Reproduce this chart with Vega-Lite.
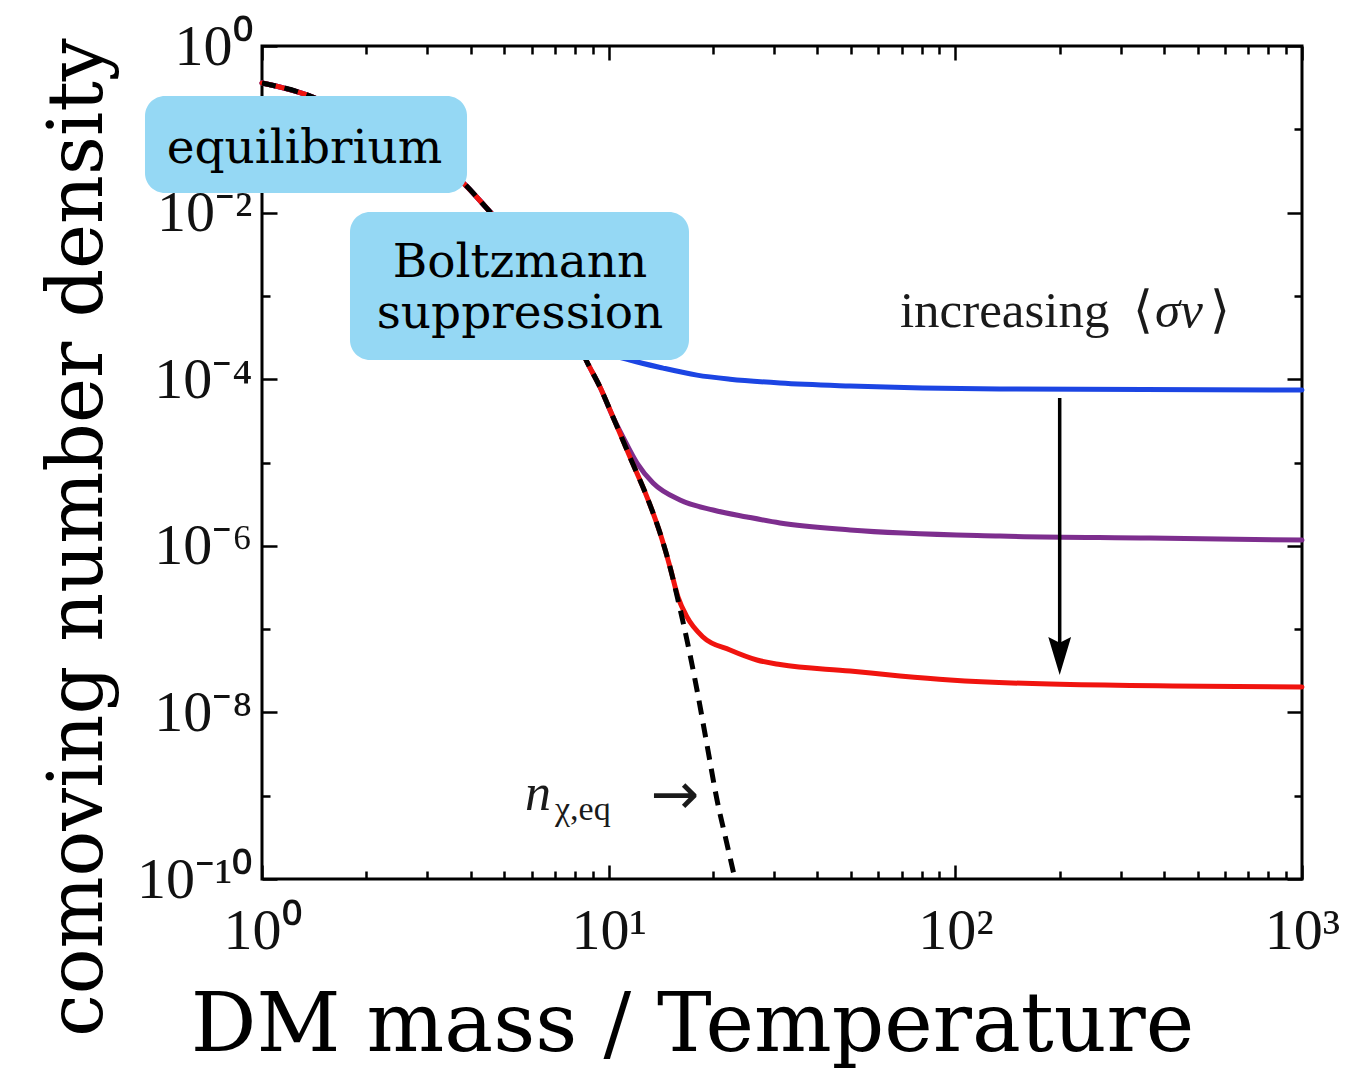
{
  "$schema": "https://vega.github.io/schema/vega-lite/v6.json",
  "width": 1040,
  "height": 833,
  "autosize": {"type": "none"},
  "padding": {"left": 262, "top": 46, "right": 62, "bottom": 194},
  "background": "white",
  "config": {
    "view": {"stroke": "black", "strokeWidth": 3},
    "axis": {"domain": false, "grid": false, "tickColor": "black", "tickWidth": 2.5, "labelFlush": false, "labelOverlap": false}
  },
  "datasets": {
    "freeze": [
      {"s": "blue", "x": 1, "y": 0.36}, {"s": "blue", "x": 1.4, "y": 0.244}, {"s": "blue", "x": 1.92, "y": 0.122}, {"s": "blue", "x": 2.67, "y": 0.0534}, {"s": "blue", "x": 3.73, "y": 0.0246}, {"s": "blue", "x": 4.55, "y": 0.0102}, {"s": "blue", "x": 5.93, "y": 0.0031}, {"s": "blue", "x": 7.24, "y": 0.000893},
      {"s": "blue", "x": 8.27, "y": 0.00039}, {"s": "blue", "x": 9.44, "y": 0.000224}, {"s": "blue", "x": 11.52, "y": 0.00017}, {"s": "blue", "x": 14.35, "y": 0.000136}, {"s": "blue", "x": 17.98, "y": 0.000112}, {"s": "blue", "x": 22.39, "y": 0.0001}, {"s": "blue", "x": 31.2, "y": 0.0000899}, {"s": "blue", "x": 49.7, "y": 0.0000828}, {"s": "blue", "x": 134.5, "y": 0.0000762}, {"s": "blue", "x": 1000, "y": 0.0000741},
      {"s": "purple", "x": 1, "y": 0.36}, {"s": "purple", "x": 1.4, "y": 0.244}, {"s": "purple", "x": 1.92, "y": 0.122}, {"s": "purple", "x": 2.67, "y": 0.0534}, {"s": "purple", "x": 3.73, "y": 0.0246}, {"s": "purple", "x": 4.55, "y": 0.0102}, {"s": "purple", "x": 5.93, "y": 0.0031}, {"s": "purple", "x": 7.24, "y": 0.000893}, {"s": "purple", "x": 8.66, "y": 0.000161}, {"s": "purple", "x": 9.44, "y": 0.0000805}, {"s": "purple", "x": 10.29, "y": 0.0000352},
      {"s": "purple", "x": 11.0, "y": 0.0000202}, {"s": "purple", "x": 12.07, "y": 0.00000986}, {"s": "purple", "x": 13.43, "y": 0.00000567}, {"s": "purple", "x": 16.06, "y": 0.00000355}, {"s": "purple", "x": 20.0, "y": 0.00000269}, {"s": "purple", "x": 25.06, "y": 0.00000222}, {"s": "purple", "x": 31.2, "y": 0.00000188}, {"s": "purple", "x": 49.7, "y": 0.00000155}, {"s": "purple", "x": 134.5, "y": 0.00000131}, {"s": "purple", "x": 364, "y": 0.00000124}, {"s": "purple", "x": 1000, "y": 0.00000117},
      {"s": "red", "x": 1, "y": 0.36}, {"s": "red", "x": 1.4, "y": 0.244}, {"s": "red", "x": 1.92, "y": 0.122}, {"s": "red", "x": 2.67, "y": 0.0534}, {"s": "red", "x": 3.73, "y": 0.0246}, {"s": "red", "x": 4.55, "y": 0.0102}, {"s": "red", "x": 5.93, "y": 0.0031}, {"s": "red", "x": 7.24, "y": 0.000893}, {"s": "red", "x": 8.66, "y": 0.000161}, {"s": "red", "x": 9.44, "y": 0.0000805}, {"s": "red", "x": 10.29, "y": 0.0000352}, {"s": "red", "x": 11.52, "y": 0.0000116}, {"s": "red", "x": 12.9, "y": 0.00000385}, {"s": "red", "x": 14.06, "y": 0.00000143}, {"s": "red", "x": 15.03, "y": 5.56e-7},
      {"s": "red", "x": 15.85, "y": 2.43e-7}, {"s": "red", "x": 16.82, "y": 1.4e-7}, {"s": "red", "x": 18.71, "y": 8.04e-8}, {"s": "red", "x": 22.39, "y": 5.61e-8}, {"s": "red", "x": 26.77, "y": 4.26e-8}, {"s": "red", "x": 31.2, "y": 3.75e-8}, {"s": "red", "x": 49.7, "y": 3.14e-8}, {"s": "red", "x": 69.2, "y": 2.74e-8}, {"s": "red", "x": 96.5, "y": 2.45e-8}, {"s": "red", "x": 187.6, "y": 2.19e-8}, {"s": "red", "x": 1000, "y": 2.02e-8}
    ],
    "eq": [
      {"x": 1, "y": 0.36}, {"x": 1.4, "y": 0.244}, {"x": 1.92, "y": 0.122}, {"x": 2.67, "y": 0.0534}, {"x": 3.73, "y": 0.0246}, {"x": 4.55, "y": 0.0102}, {"x": 5.93, "y": 0.0031}, {"x": 7.24, "y": 0.000893}, {"x": 8.66, "y": 0.000161}, {"x": 9.44, "y": 0.0000805}, {"x": 10.29, "y": 0.0000352}, {"x": 11.52, "y": 0.0000116}, {"x": 12.9, "y": 0.00000385}, {"x": 14.06, "y": 0.00000143}, {"x": 15.03, "y": 5.56e-7}, {"x": 15.85, "y": 2.23e-7}, {"x": 16.82, "y": 7.4e-8}, {"x": 17.98, "y": 1.86e-8}, {"x": 19.22, "y": 4.06e-9}, {"x": 20.54, "y": 8.87e-10}, {"x": 21.81, "y": 2.94e-10}, {"x": 23.14, "y": 1e-10}
    ],
    "arrow": [{"x": 200, "y": 0.0000594, "y2": 5.61e-8}],
    "head": [{"x": 200, "y": 4.75e-8}],
    "boxes": [
      {"x": 0.4597, "x2": 3.903, "y": 0.2511, "y2": 0.01719},
      {"x": 1.794, "x2": 17.05, "y": 0.01017, "y2": 0.00017}
    ],
    "boxtext": [
      {"t": "equilibrium", "x": 1.326, "y": 0.0394},
      {"t": "Boltzmann", "x": 5.55, "y": 0.001686},
      {"t": "suppression", "x": 5.55, "y": 0.000412}
    ],
    "plain": [
      {"t": "increasing", "x": 69.2, "y": 0.000423},
      {"t": "⟨", "x": 325.5, "y": 0.000423},
      {"t": "⟩", "x": 542.8, "y": 0.000423}
    ]
  },
  "layer": [
    {
      "data": {"name": "freeze"},
      "mark": {"type": "line", "strokeWidth": 5, "strokeCap": "round", "interpolate": "monotone"},
      "encoding": {
        "x": {"field": "x", "type": "quantitative", "scale": {"type": "log", "domain": [1, 1000], "nice": false},
          "axis": {"orient": "bottom", "values": [1, 10, 100, 1000], "tickSize": -14,
            "labelExpr": "datum.value < 5 ? '10⁰' : datum.value < 50 ? '10¹' : datum.value < 500 ? '10²' : '10³'",
            "labelFont": "Liberation Serif", "labelFontSize": 58, "labelColor": "#111111", "labelBaseline": "alphabetic", "labelAlign": "center", "labelPadding": 83,
            "title": "DM mass / Temperature", "titleFont": "DejaVu Serif", "titleFontSize": 82, "titleFontWeight": "normal", "titleColor": "black",
            "titleX": 430, "titleY": 171, "titleAlign": "center", "titleBaseline": "alphabetic"}},
        "y": {"field": "y", "type": "quantitative", "scale": {"type": "log", "domain": [1e-10, 1], "nice": false},
          "axis": {"orient": "left", "values": [1, 0.01, 0.0001, 0.000001, 1e-8, 1e-10], "tickSize": -15,
            "labelExpr": "datum.value > 0.1 ? '10⁰' : datum.value > 0.001 ? '10⁻²' : datum.value > 0.00001 ? '10⁻⁴' : datum.value > 1e-7 ? '10⁻⁶' : datum.value > 1e-9 ? '10⁻⁸' : '10⁻¹⁰'",
            "labelFont": "Liberation Serif", "labelFontSize": 58, "labelColor": "#111111", "labelBaseline": "alphabetic", "labelAlign": "right", "labelPadding": 25, "labelOffset": 18,
            "title": "comoving number density", "titleFont": "DejaVu Serif", "titleFontSize": 76, "titleFontWeight": "normal", "titleColor": "black",
            "titleAngle": -90, "titleX": -161, "titleY": 491, "titleAlign": "center", "titleBaseline": "alphabetic"}},
        "color": {"field": "s", "type": "nominal", "scale": {"domain": ["blue", "purple", "red"], "range": ["#1c45e3", "#7d2e8e", "#f0140f"]}, "legend": null},
        "detail": {"field": "s"}
      }
    },
    {
      "data": {"name": "eq"},
      "mark": {"type": "line", "color": "black", "strokeWidth": 5, "strokeDash": [14, 9], "interpolate": "monotone"},
      "encoding": {
        "x": {"field": "x", "type": "quantitative", "axis": {"orient": "bottom", "values": [2, 3, 4, 5, 6, 7, 8, 9, 20, 30, 40, 50, 60, 70, 80, 90, 200, 300, 400, 500, 600, 700, 800, 900], "tickSize": -8, "labels": false, "title": null}},
        "y": {"field": "y", "type": "quantitative", "axis": {"orient": "left", "values": [0.1, 0.001, 0.00001, 1e-7, 1e-9], "tickSize": -8, "labels": false, "title": null}}
      }
    },
    {
      "data": {"name": "arrow"},
      "mark": {"type": "rule", "color": "black", "strokeWidth": 3.5},
      "encoding": {
        "x": {"field": "x", "type": "quantitative", "axis": {"orient": "top", "values": [1, 10, 100, 1000], "tickSize": -14, "labels": false, "title": null}},
        "y": {"field": "y", "type": "quantitative", "axis": {"orient": "right", "values": [1, 0.01, 0.0001, 0.000001, 1e-8, 1e-10], "tickSize": -15, "labels": false, "title": null}},
        "y2": {"field": "y2"}
      }
    },
    {
      "data": {"name": "head"},
      "mark": {"type": "point", "shape": "M-0.6,-1L0,-0.7L0.6,-1L0,1Z", "size": 1444, "filled": true, "color": "black", "opacity": 1, "strokeWidth": 0},
      "encoding": {
        "x": {"field": "x", "type": "quantitative", "axis": {"orient": "top", "values": [2, 3, 4, 5, 6, 7, 8, 9, 20, 30, 40, 50, 60, 70, 80, 90, 200, 300, 400, 500, 600, 700, 800, 900], "tickSize": -8, "labels": false, "title": null}},
        "y": {"field": "y", "type": "quantitative", "axis": {"orient": "right", "values": [0.1, 0.001, 0.00001, 1e-7, 1e-9], "tickSize": -8, "labels": false, "title": null}}
      }
    },
    {
      "data": {"name": "boxes"},
      "mark": {"type": "rect", "fill": "#95d8f4", "cornerRadius": 20},
      "encoding": {
        "x": {"field": "x", "type": "quantitative", "axis": null},
        "x2": {"field": "x2"},
        "y": {"field": "y", "type": "quantitative", "axis": null},
        "y2": {"field": "y2"}
      }
    },
    {
      "data": {"name": "boxtext"},
      "mark": {"type": "text", "font": "DejaVu Serif", "fontSize": 47, "align": "center", "baseline": "alphabetic", "color": "black"},
      "encoding": {
        "x": {"field": "x", "type": "quantitative", "axis": null},
        "y": {"field": "y", "type": "quantitative", "axis": null},
        "text": {"field": "t"}
      }
    },
    {
      "data": {"name": "plain"},
      "mark": {"type": "text", "font": "Liberation Serif", "fontSize": 51, "align": "left", "baseline": "alphabetic", "color": "#1a1a1a"},
      "encoding": {
        "x": {"field": "x", "type": "quantitative", "axis": null},
        "y": {"field": "y", "type": "quantitative", "axis": null},
        "text": {"field": "t"}
      }
    },
    {
      "data": {"values": [{"t": "σv", "x": 376.7, "y": 0.000423}]},
      "mark": {"type": "text", "font": "Liberation Serif", "fontSize": 51, "fontStyle": "italic", "align": "left", "baseline": "alphabetic", "color": "#1a1a1a"},
      "encoding": {
        "x": {"field": "x", "type": "quantitative", "axis": null},
        "y": {"field": "y", "type": "quantitative", "axis": null},
        "text": {"field": "t"}
      }
    },
    {
      "data": {"values": [{"t": "n", "x": 5.736, "y": 6.73e-10}]},
      "mark": {"type": "text", "font": "Liberation Serif", "fontSize": 52, "fontStyle": "italic", "align": "left", "baseline": "alphabetic", "color": "#1a1a1a"},
      "encoding": {
        "x": {"field": "x", "type": "quantitative", "axis": null},
        "y": {"field": "y", "type": "quantitative", "axis": null},
        "text": {"field": "t"}
      }
    },
    {
      "data": {"values": [{"t": "χ,eq", "x": 7.0, "y": 5.11e-10}]},
      "mark": {"type": "text", "font": "Liberation Serif", "fontSize": 34, "align": "left", "baseline": "alphabetic", "color": "#1a1a1a"},
      "encoding": {
        "x": {"field": "x", "type": "quantitative", "axis": null},
        "y": {"field": "y", "type": "quantitative", "axis": null},
        "text": {"field": "t"}
      }
    },
    {
      "data": {"values": [{"t": "→", "x": 13.2, "y": 9.64e-10}]},
      "mark": {"type": "text", "font": "DejaVu Sans", "fontSize": 58, "align": "left", "baseline": "middle", "color": "#1a1a1a"},
      "encoding": {
        "x": {"field": "x", "type": "quantitative", "axis": null},
        "y": {"field": "y", "type": "quantitative", "axis": null},
        "text": {"field": "t"}
      }
    }
  ],
  "resolve": {"axis": {"x": "independent", "y": "independent"}}
}
